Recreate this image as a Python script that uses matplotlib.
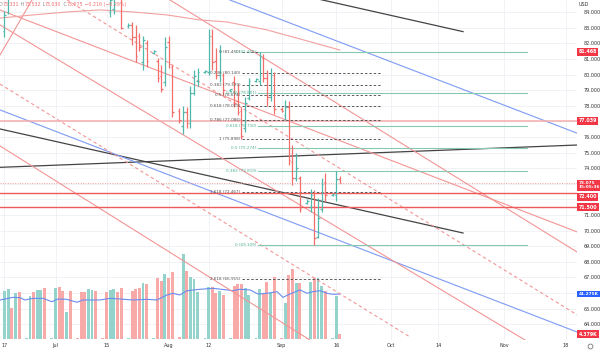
import matplotlib
matplotlib.use("Agg")
import matplotlib.pyplot as plt
import matplotlib.transforms as mtransforms
from matplotlib.lines import Line2D
import numpy as np
import pandas as pd

plt.rcParams['font.family'] = ['DejaVu Sans']

# ---------------- data ----------------
bar_dates = ["2024-06-17", "2024-06-18", "2024-06-19", "2024-06-20", "2024-06-21", "2024-06-23",
             "2024-06-24", "2024-06-25", "2024-06-26", "2024-06-27", "2024-06-28", "2024-06-30",
             "2024-07-01", "2024-07-02", "2024-07-03", "2024-07-04", "2024-07-05", "2024-07-07",
             "2024-07-08", "2024-07-09", "2024-07-10", "2024-07-11", "2024-07-12", "2024-07-14",
             "2024-07-15", "2024-07-16", "2024-07-17", "2024-07-18", "2024-07-19", "2024-07-21",
             "2024-07-22", "2024-07-23", "2024-07-24", "2024-07-25", "2024-07-26", "2024-07-28",
             "2024-07-29", "2024-07-30", "2024-07-31", "2024-08-01", "2024-08-02", "2024-08-04",
             "2024-08-05", "2024-08-06", "2024-08-07", "2024-08-08", "2024-08-09", "2024-08-11",
             "2024-08-12", "2024-08-13", "2024-08-14", "2024-08-15", "2024-08-16", "2024-08-18",
             "2024-08-19", "2024-08-20", "2024-08-21", "2024-08-22", "2024-08-23", "2024-08-25",
             "2024-08-26", "2024-08-27", "2024-08-28", "2024-08-29", "2024-08-30", "2024-09-01",
             "2024-09-02", "2024-09-03", "2024-09-04", "2024-09-05", "2024-09-06", "2024-09-08",
             "2024-09-09", "2024-09-10", "2024-09-11", "2024-09-12", "2024-09-13", "2024-09-15",
             "2024-09-16", "2024-09-17"]
opens = [82.8, 84.0, 85.3, 85.0, 85.9, 85.4,
         85.4, 86.1, 85.2, 85.6, 86.6, 86.4,
         86.4, 86.9, 87.4, 87.1, 87.4, 86.6,
         86.5, 85.8, 85.0, 85.5, 85.9, 85.3,
         85.3, 84.0, 84.2, 85.5, 85.1, 83.1,
         83.2, 82.4, 82.5, 80.8, 82.0, 81.4,
         80.9, 79.9, 79.5, 82.1, 80.5, 77.7,
         76.7, 77.6, 76.9, 78.8, 79.6, 80.2,
         80.2, 82.5, 80.9, 80.0, 80.0, 79.0,
         79.5, 78.3, 77.7, 76.6, 78.5, 79.6,
         79.6, 81.1, 79.8, 78.6, 80.0, 77.8,
         77.4, 77.9, 74.4, 73.4, 73.4, 71.8,
         71.5, 72.3, 69.6, 71.4, 73.1, 72.3,
         72.3, 73.331]
highs = [84.1, 85.3, 85.6, 86.2, 86.1, 85.5,
         86.3, 86.2, 85.9, 86.7, 87.2, 86.5,
         87.1, 87.1, 87.7, 87.6, 87.8, 86.7,
         86.7, 86.0, 85.6, 86.1, 86.0, 85.4,
         85.5, 85.1, 85.6, 85.8, 85.3, 83.3,
         83.4, 83.2, 82.7, 82.5, 82.2, 81.6,
         81.1, 80.6, 82.4, 82.5, 80.6, 77.85,
         78.0, 77.9, 79.3, 80.3, 80.4, 80.3,
         82.9, 82.9, 81.7, 81.9, 80.1, 79.1,
         79.9, 79.4, 77.9, 78.6, 79.8, 79.8,
         81.45, 81.3, 80.3, 80.4, 80.2, 77.9,
         78.4, 78.3, 75.5, 75.0, 73.5, 72.0,
         72.7, 72.6, 72.1, 73.4, 73.7, 72.4,
         73.8, 73.532]
lows = [82.4, 83.9, 84.9, 84.95, 85.1, 85.3,
        85.2, 85.0, 85.0, 85.4, 86.2, 86.3,
        85.9, 86.1, 86.8, 86.9, 86.3, 86.5,
        85.7, 84.9, 84.9, 85.1, 85.1, 85.2,
        84.9, 83.7, 83.9, 84.9, 82.9, 83.0,
        81.9, 80.8, 81.5, 80.3, 80.5, 81.3,
        79.5, 78.9, 79.3, 80.4, 77.3, 76.9,
        76.2, 76.6, 76.6, 78.7, 79.3, 80.1,
        80.0, 80.3, 79.7, 79.5, 78.7, 78.9,
        77.9, 77.4, 75.898, 76.3, 78.4, 79.5,
        79.35, 79.5, 78.0, 78.3, 77.5, 77.6,
        77.1, 74.2, 72.9, 73.2, 71.2, 71.7,
        71.2, 69.109, 69.5, 71.2, 71.9, 72.2,
        71.9, 73.030]
closes = [83.8, 85.1, 85.0, 85.9, 85.4, 85.45,
          86.1, 85.2, 85.6, 86.5, 86.4, 86.45,
          86.9, 86.3, 87.1, 87.4, 86.6, 86.55,
          85.8, 85.0, 85.5, 85.9, 85.3, 85.25,
          85.0, 84.8, 85.4, 85.1, 83.0, 83.2,
          82.4, 81.2, 81.8, 82.2, 80.9, 81.5,
          79.8, 79.1, 81.8, 80.7, 77.6, 77.1,
          77.6, 76.9, 78.8, 79.9, 80.2, 80.25,
          82.5, 80.8, 80.0, 81.5, 79.0, 79.05,
          78.2, 77.6, 76.1, 78.2, 79.6, 79.7,
          81.2, 79.8, 78.6, 80.0, 77.8, 77.7,
          77.9, 74.5, 73.4, 74.0, 71.4, 71.9,
          72.3, 69.5, 70.8, 73.0, 72.3, 72.35,
          73.291, 73.075]
volumes_k = [44, 46, 28, 42, 43, 1,
             39, 43, 45, 45, 47, 1,
             46.5, 48, 44, 25, 44, 1,
             43, 43, 45.6, 45, 44, 1,
             43, 45, 45.6, 43, 46.5, 1,
             44, 45.6, 46.5, 51.7, 50.5, 1,
             55.7, 53.5, 59.3, 55.7, 61.7, 1.5,
             78, 62.4, 56.6, 54.8, 43.4, 1,
             48, 48, 42, 44, 40, 1,
             49, 50, 50, 46.5, 40, 1,
             45.6, 42, 52.6, 42, 57, 1,
             33, 58.7, 64, 51.7, 51.7, 1,
             52.6, 56, 56, 49, 44, 1,
             39, 4.379]

# volume moving average (day offset from 17 Jun, value in K)
ma_days = [-1.2, 1, 2.3, 4.3, 5.6, 7.8, 10.6, 13, 14.7, 17.1, 19.9, 21.5, 26.2, 28.9, 31.7, 35.3,
           39.1, 41.8, 44.6, 46.2, 48.1, 50.1, 53.6, 57.2, 61, 62.7, 64.6, 67.4, 69.5, 72, 74.8,
           76.4, 78.3, 81.1, 83, 84.6, 86.6, 88.5, 90.1, 92]
ma_vals = [35.8, 37.3, 38.2, 37.9, 35.8, 37.3, 37.3, 34.2, 36.7, 36.4, 33.7, 35.8, 35.8, 37.3, 36.7,
           35.8, 36.4, 35.8, 40.4, 41.9, 40.4, 44.3, 45.6, 46.5, 45, 44.3, 45.6, 45, 41.3, 41.9,
           43.4, 38.2, 41.3, 45, 41.9, 43.4, 44.3, 41.9, 41.0, 41.275]

# long moving average on price (day offset, price)
sma_days = [-1.23, 7.8, 17.1, 26.2, 35.3, 44.6, 53.6, 61.0, 72.0, 81.1, 92.0]
sma_vals = [83.63, 83.83, 84.02, 84.15, 84.02, 83.83, 83.51, 83.38, 82.87, 82.29, 81.58]

# drawn trend lines: ((day, price), (day, price))
black_lines = [((-1.23, 74.06), (157.1, 75.49)),
               ((-1.23, 76.52), (125.8, 69.85)),
               ((83.8, 84.97), (125.8, 82.76))]
blue_lines = [((50.0, 85.85), (160.0, 75.99)),
              ((-1.23, 77.74), (157.1, 63.50))]
red_lines = [((-1.23, 84.15), (157.1, 69.92)),
             ((-1.23, 83.19), (142.8, 62.99)),
             ((-1.23, 75.43), (83.8, 62.99)),
             ((45.4, 84.79), (157.1, 68.63)),
             ((-1.23, 81.26), (7.54, 84.79))]
red_dashed = [((17.15, 84.79), (157.1, 64.60)),
              ((-1.23, 79.40), (111.2, 63.19))]

# horizontal levels
hline_light = 77.039
hline_strong = [72.400, 71.500]
last_price = 73.075

# fibonacci tools
fib_gray_hi, fib_gray_lo = 81.450, 75.898
fib_gray_ratios = [0, 0.236, 0.382, 0.5, 0.618, 0.786, 1, 1.618, 2.618]
fib_gray_span = (65.2, 103.6)
fib_green_lo, fib_green_hi = 69.109, 81.440
fib_green_ratios = [0, 0.382, 0.5, 0.618, 0.786, 1]
fib_green_span = (69.5, 143.4)

tick_dates = ["2024-06-17", "2024-07-01", "2024-07-15", "2024-08-01", "2024-08-12", "2024-09-01",
              "2024-09-16", "2024-10-01", "2024-10-14", "2024-11-01", "2024-11-18"]
tick_labels = ["17", "Jul", "15", "Aug", "12", "Sep", "16", "Oct", "14", "Nov", "18"]

header = [("O", "gray"), ("73.331", "red"), (" H", "gray"), ("73.532", "red"),
          (" L", "gray"), ("73.030", "red"), (" C", "gray"), ("73.075", "red"),
          (" \u22120.216 (\u22120.29%)", "red")]

# ---------------- drawing ----------------
TEAL, RED = "#4fb8aa", "#f26e6b"
VTEAL, VRED = "#93d3cc", "#f8aaa8"
t0 = pd.Timestamp("2024-06-17")
days = np.array((pd.to_datetime(bar_dates) - t0).days, dtype=float)
tick_days = np.array((pd.to_datetime(tick_dates) - t0).days, dtype=float)
o, h, l, c = map(np.array, (opens, highs, lows, closes))
up = c >= o

W, H = 600, 352
fig = plt.figure(figsize=(6, 3.52), dpi=100)
rect = [0, 12 / H, 577 / W, 340 / H]
axv = fig.add_axes(rect)
ax = fig.add_axes(rect)
ax.patch.set_visible(False)

XL = (-1.2346, 157.07)
YL = (62.99, 84.788)
ax.set_xlim(*XL); axv.set_xlim(*XL)
ax.set_ylim(*YL)
axv.set_ylim(-0.917, 311.0)

# grid on bottom layer
trv = mtransforms.blended_transform_factory(axv.transData, axv.transAxes)
for td in tick_days:
    axv.plot([td, td], [0, 1], transform=trv, color="#eef0f4", lw=0.6, zorder=0)
trh = mtransforms.blended_transform_factory(axv.transAxes, ax.transData)
for p in range(63, 85):
    axv.plot([0, 1], [p, p], transform=trh, color="#eef0f4", lw=0.6, zorder=0)

# volume
axv.bar(days, volumes_k, width=0.8, color=np.where(up, VTEAL, VRED), zorder=2)
axv.plot(ma_days, ma_vals, color="#6a8cf0", lw=0.8, zorder=3)
axv.axis('off')

# lines
def seg(a, pts, **kw):
    (x0, y0), (x1, y1) = pts
    a.plot([x0, x1], [y0, y1], **kw)

for pts in black_lines:
    seg(ax, pts, color="#444444", lw=0.9, zorder=3)
for pts in blue_lines:
    seg(ax, pts, color="#7d9bf3", lw=0.8, zorder=3)
for pts in red_lines:
    seg(ax, pts, color="#f39595", lw=0.8, zorder=3)
for pts in red_dashed:
    seg(ax, pts, color="#f39595", lw=0.8, ls=(0, (3, 2.5)), zorder=3)
ax.plot(sma_days, sma_vals, color="#f2a0a0", lw=0.8, zorder=3)

ax.axhline(hline_light, color="#f5adad", lw=1.1, zorder=3)
for v in hline_strong:
    ax.axhline(v, color="#ee5a5a", lw=1.0, zorder=3)
ax.axhline(last_price, color="#f3a0a0", lw=0.7, ls=(0, (1, 1.5)), zorder=3)

# fib gray
for r in fib_gray_ratios:
    lv = fib_gray_hi - r * (fib_gray_hi - fib_gray_lo)
    ax.plot(fib_gray_span, [lv, lv], color="#5a5a5a", lw=0.7, ls=(0, (2.5, 2)), zorder=4)
    ax.text(fib_gray_span[0] - 0.5, lv, f"{r:g} ({lv:.3f})", ha='right', va='center',
            fontsize=3.0, color="#505050", zorder=6)
# fib green
for r in fib_green_ratios:
    lv = fib_green_lo + r * (fib_green_hi - fib_green_lo)
    ax.plot(fib_green_span, [lv, lv], color="#86c9b0", lw=0.8, zorder=4)
    ax.text(fib_green_span[0] - 0.4, lv, f"{r:g} ({lv:.3f})", ha='right', va='center',
            fontsize=3.0, color="#4fae8c", zorder=6)

# price bars (OHLC)
cols = np.where(up, TEAL, RED)
ax.vlines(days, l, h, colors=cols, lw=0.9, zorder=5)
ax.hlines(o, days - 0.45, days, colors=cols, lw=0.9, zorder=5)
ax.hlines(c, days, days + 0.45, colors=cols, lw=0.9, zorder=5)

# axes styling
for s in ax.spines.values():
    s.set_visible(False)
ax.yaxis.tick_right()
yt = np.arange(63, 85)
hidden = {63, 66, 72, 73, 77}
ax.set_yticks(yt)
ax.set_yticklabels(["" if v in hidden else f"{v:.3f}" for v in yt])
ax.set_xticks(tick_days)
ax.set_xticklabels(tick_labels)
ax.tick_params(axis='y', length=0, pad=4.5, labelsize=3.5, labelcolor="#333333")
ax.tick_params(axis='x', length=0, pad=2.2, labelsize=3.5, labelcolor="#333333")

# tags
def tag(a, y, text, color, fs=3.4):
    tr = mtransforms.blended_transform_factory(a.transAxes, a.transData)
    a.text(1.0 + 1.5 / 577, y, text, transform=tr, ha='left', va='center', fontsize=fs,
           color='white', fontweight='bold', linespacing=1.0,
           bbox=dict(boxstyle='square,pad=0.3', fc=color, ec='none'), clip_on=False, zorder=20)

TAGRED = "#f23645"
tag(ax, 81.468, "81.468", TAGRED)
tag(ax, 77.039, "77.039", TAGRED)
tag(ax, 72.90, "73.075\n15:05:36", TAGRED, fs=3.1)
tag(ax, 72.18, "72.400", TAGRED)
tag(ax, 71.500, "71.500", TAGRED)
tag(axv, 41.275, "41.275K", "#2962ff", fs=3.1)
tag(axv, 4.379, "4.379K", TAGRED)

fig.text(579 / W, 1 - 4 / H, "USD", fontsize=3.5, color="#333333", va='center', ha='left')
fig.add_artist(Line2D([590 / W], [1 - 346 / H], marker='o', mfc='none', mec='#777777',
                      ms=3.5, mew=0.6, transform=fig.transFigure))

# header OHLC text (pieces chained one after another)
hcol = {"gray": "#8a8a8a", "red": "#f07070"}
prev = None
for s, cname in header:
    if prev is None:
        prev = ax.annotate(s, xy=(-1.0 / 577, 1 - 7.0 / 340), xycoords='axes fraction',
                           va='bottom', ha='left', fontsize=3.4, color=hcol[cname],
                           annotation_clip=False, zorder=20)
    else:
        prev = ax.annotate(s, xy=(1, 0), xycoords=prev, va='bottom', ha='left',
                           fontsize=3.4, color=hcol[cname], annotation_clip=False, zorder=20)

fig.savefig("out.png", dpi=100)
